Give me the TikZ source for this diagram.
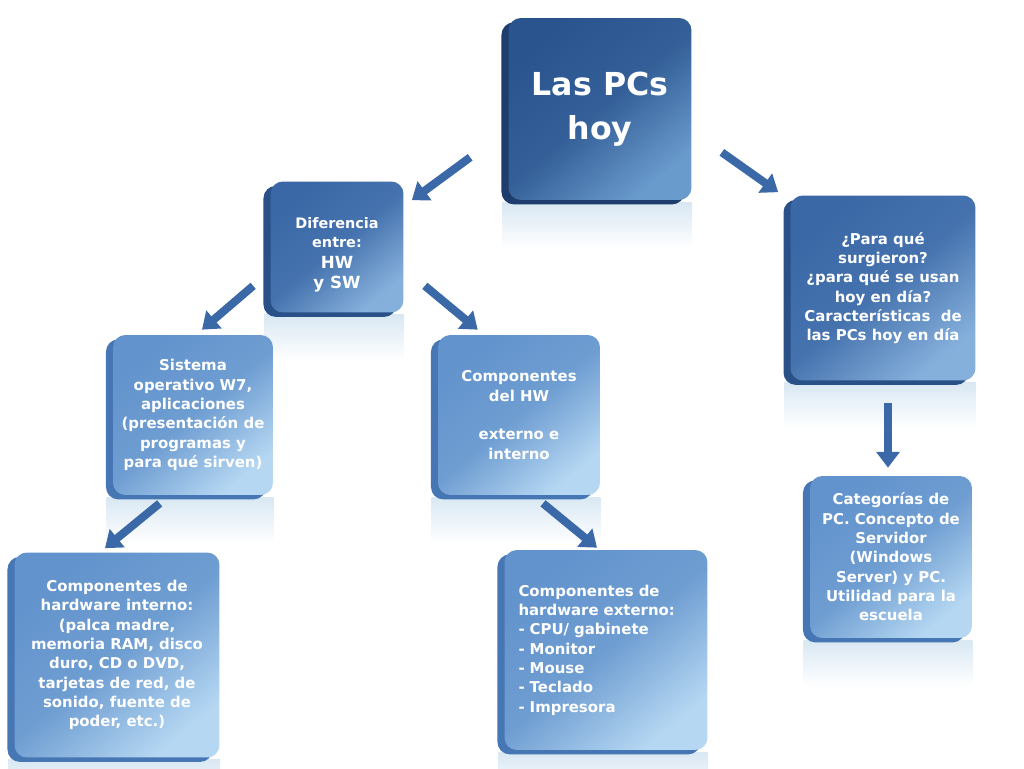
\documentclass[tikz,border=0pt]{standalone}
\usepackage{fontspec}
\setmainfont{DejaVu Sans}
\usetikzlibrary{arrows.meta,shadows,backgrounds}

\definecolor{azulA}{HTML}{2A548E}
\definecolor{azulAc}{HTML}{6A9BCD}
\definecolor{azulAs}{HTML}{1E3D6C}
\definecolor{azulB}{HTML}{3A68A6}
\definecolor{azulBc}{HTML}{86B0DC}
\definecolor{azulBs}{HTML}{2A5088}
\definecolor{azulC}{HTML}{6293CC}
\definecolor{azulCc}{HTML}{B5D7F2}
\definecolor{azulCs}{HTML}{4676B4}
\definecolor{flechacol}{HTML}{3B69A8}
\definecolor{reflejo}{HTML}{D9E8F3}

\tikzset{
  caja/.style n args={3}{rounded corners=7pt, text=white, align=center, inner sep=0pt,
    font=\bfseries\fontsize{8.5}{11}\selectfont,
    top color=#1, bottom color=#2, middle color=#1!85!#2, shading angle=40,
    general shadow={fill=#3, shadow xshift=-4pt, shadow yshift=-2.5pt}},
  flecha/.style={line width=4.6pt, draw=flechacol, -{Triangle[width=13pt,length=9pt]}}
}

\begin{document}
\begin{tikzpicture}[x=0.02cm, y=-0.02cm]
  \useasboundingbox (0,0) rectangle (1024,768);

  % Cajas
  \node[caja={azulA}{azulAc}{azulAs}, minimum width=3.66cm, minimum height=3.64cm,
        font=\bfseries\fontsize{18}{25}\selectfont] (pcs) at (600,109) {Las PCs\\hoy};
  \node[caja={azulB}{azulBc}{azulBs}, minimum width=2.66cm, minimum height=2.62cm,
        font=\bfseries\fontsize{8.2}{11}\selectfont] (dif) at (337,247)
        {\\[4pt]Diferencia\\entre:\\[1pt]{\fontsize{9.5}{12}\selectfont HW}\\{\fontsize{9.5}{12}\selectfont y SW}};
  \node[caja={azulB}{azulBc}{azulBs}, minimum width=3.7cm, minimum height=3.7cm] (para) at (883,288)
        {¿Para qué\\surgieron?\\¿para qué se usan\\hoy en día?\\Características\ \ de\\las PCs hoy en día};
  \node[caja={azulC}{azulCc}{azulCs}, minimum width=3.2cm, minimum height=3.2cm] (so) at (193,415)
        {Sistema\\operativo W7,\\aplicaciones\\(presentación de\\programas y\\para qué sirven)};
  \node[caja={azulC}{azulCc}{azulCs}, minimum width=3.24cm, minimum height=3.2cm] (comp) at (519,415)
        {Componentes\\del HW\\[11pt]externo e\\interno};
  \node[caja={azulC}{azulCc}{azulCs}, minimum width=4.1cm, minimum height=4.1cm] (hwint) at (117,655)
        {Componentes de\\hardware interno:\\(palca madre,\\memoria RAM, disco\\duro, CD o DVD,\\tarjetas de red, de\\sonido, fuente de\\poder, etc.)};
  \node[caja={azulC}{azulCc}{azulCs}, minimum width=4.06cm, minimum height=4cm,
        text width=3.5cm, align=left] (hwext) at (606,650)
        {Componentes de\\hardware externo:\\- CPU/ gabinete\\- Monitor\\- Mouse\\- Teclado\\- Impresora};
  \node[caja={azulC}{azulCc}{azulCs}, minimum width=3.24cm, minimum height=3.24cm] (cat) at (891,557)
        {Categorías de\\PC. Concepto de\\Servidor\\(Windows\\Server) y PC.\\Utilidad para la\\escuela};

  % Reflejos
  \begin{scope}[on background layer]
    \foreach \n in {pcs,dif,para,so,comp,hwint,hwext,cat}
      \shade[top color=reflejo, bottom color=white]
        ([shift={(-6,2)}]\n.south west) rectangle ([shift={(0,48)}]\n.south east);
  \end{scope}

  % Flechas
  \draw[flecha] ([shift={(-38,-43)}]pcs.south west) -- ([shift={(8,19)}]dif.north east);
  \draw[flecha] ([shift={(30,-48)}]pcs.south east) -- ([shift={(-12,-3)}]para.north west);
  \draw[flecha] ([shift={(-17,-27)}]dif.south west) -- ([shift={(9,-5)}]so.north);
  \draw[flecha] ([shift={(21,-27)}]dif.south east) -- ([shift={(40,-5)}]comp.north west);
  \draw[flecha] ([shift={(47,8)}]so.south west) -- ([shift={(-12,-4)}]hwint.north);
  \draw[flecha] ([shift={(24,8)}]comp.south) -- ([shift={(-9,-2)}]hwext.north);
  \draw[flecha] ([shift={(5,22)}]para.south) -- ([shift={(-3,-8)}]cat.north);
\end{tikzpicture}
\end{document}
